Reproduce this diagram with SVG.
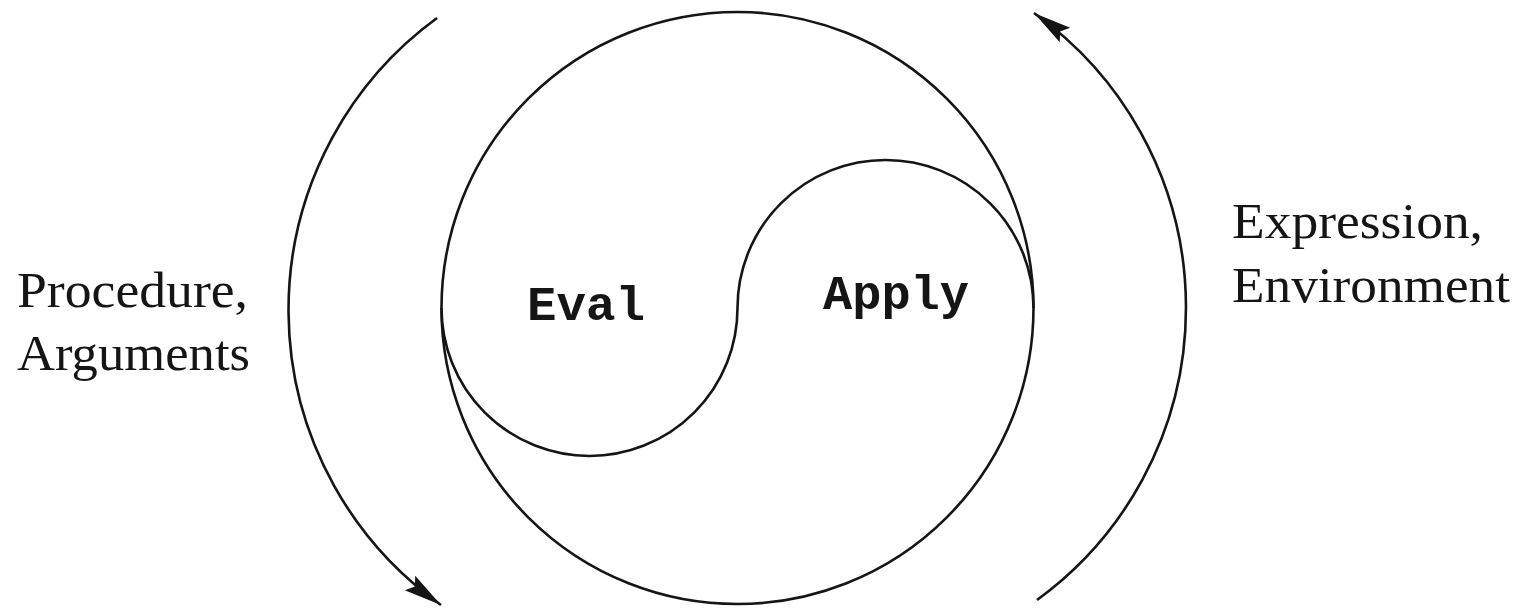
<svg xmlns="http://www.w3.org/2000/svg" width="1522" height="608" viewBox="0 0 1522 608">
  <style>
    .ln { fill: none; stroke: #151515; stroke-width: 2.6; }
    .lbl { font-family: "Liberation Serif", "DejaVu Serif", serif; font-size: 50px; fill: #151515; }
    .code { font-family: "Liberation Mono", "DejaVu Sans Mono", monospace; font-size: 48px; font-weight: bold; fill: #151515; }
  </style>
  <defs>
    <marker id="arrow" markerUnits="userSpaceOnUse" markerWidth="50" markerHeight="24" viewBox="-42 -12 44 24" refX="0" refY="0" orient="auto">
      <path d="M0,0 L-38,-9 L-32,0 L-38,9 Z" fill="#151515"/>
    </marker>
  </defs>
  <rect width="1522" height="608" fill="#ffffff"/>

  <g id="cycle">
    <circle id="main-circle" class="ln" cx="737.5" cy="308" r="296"/>
    <path id="s-curve" class="ln" d="M441.5,308 A148,148 0 0 0 737.5,308 A148,148 0 0 1 1033.5,308"/>
  </g>

  <g id="connectors">
    <path id="left-arc" class="ln" d="M437,18 A361.5,361.5 0 0 0 441,605" marker-end="url(#arrow)"/>
    <path id="right-arc" class="ln" d="M1037,600 A361.5,361.5 0 0 0 1034,13" marker-end="url(#arrow)"/>
  </g>

  <g id="eval">
    <text class="code" x="527" y="320" textLength="118" lengthAdjust="spacingAndGlyphs">Eval</text>
  </g>
  <g id="apply">
    <text class="code" x="823" y="309" textLength="146" lengthAdjust="spacingAndGlyphs">Apply</text>
  </g>

  <g id="left-label">
    <text class="lbl" x="17" y="307" textLength="231" lengthAdjust="spacingAndGlyphs">Procedure,</text>
    <text class="lbl" x="17" y="370" textLength="233" lengthAdjust="spacingAndGlyphs">Arguments</text>
  </g>
  <g id="right-label">
    <text class="lbl" x="1232" y="238" textLength="251" lengthAdjust="spacingAndGlyphs">Expression,</text>
    <text class="lbl" x="1232" y="302" textLength="278" lengthAdjust="spacingAndGlyphs">Environment</text>
  </g>
</svg>
